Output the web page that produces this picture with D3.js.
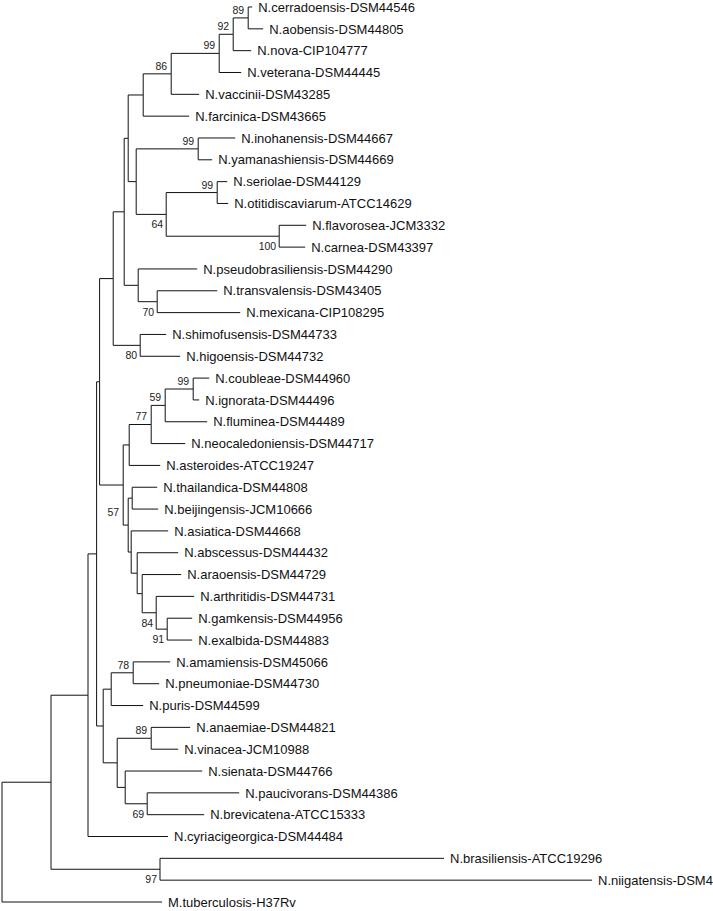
<!DOCTYPE html>
<html>
<head>
<meta charset="utf-8">
<script src="https://cdn.jsdelivr.net/npm/d3@7"></script>
<style>
  body { margin: 0; background: #fff; }
  svg { display: block; }
</style>
</head>
<body>
<script>
// Leaves, top to bottom as drawn
const taxa = [
  "N.cerradoensis-DSM44546", "N.aobensis-DSM44805", "N.nova-CIP104777", "N.veterana-DSM44445",
  "N.vaccinii-DSM43285", "N.farcinica-DSM43665", "N.inohanensis-DSM44667", "N.yamanashiensis-DSM44669",
  "N.seriolae-DSM44129", "N.otitidiscaviarum-ATCC14629", "N.flavorosea-JCM3332", "N.carnea-DSM43397",
  "N.pseudobrasiliensis-DSM44290", "N.transvalensis-DSM43405", "N.mexicana-CIP108295",
  "N.shimofusensis-DSM44733", "N.higoensis-DSM44732", "N.coubleae-DSM44960", "N.ignorata-DSM44496",
  "N.fluminea-DSM44489", "N.neocaledoniensis-DSM44717", "N.asteroides-ATCC19247",
  "N.thailandica-DSM44808", "N.beijingensis-JCM10666", "N.asiatica-DSM44668", "N.abscessus-DSM44432",
  "N.araoensis-DSM44729", "N.arthritidis-DSM44731", "N.gamkensis-DSM44956", "N.exalbida-DSM44883",
  "N.amamiensis-DSM45066", "N.pneumoniae-DSM44730", "N.puris-DSM44599", "N.anaemiae-DSM44821",
  "N.vinacea-JCM10988", "N.sienata-DSM44766", "N.paucivorans-DSM44386", "N.brevicatena-ATCC15333",
  "N.cyriacigeorgica-DSM44484", "N.brasiliensis-ATCC19296", "N.niigatensis-DSM4", "M.tuberculosis-H37Rv"
];
const taxonParent = [
  "n89a", "n89a", "n92", "n99b", "n86", "n143", "n99c", "n99c", "n99d", "n99d", "n100", "n100",
  "n138", "n70", "n70", "n80", "n80", "n99e", "n99e", "n59", "n77", "n129",
  "n133", "n133", "n131", "n137", "n142", "n84", "n91", "n91",
  "n78", "n78", "n111", "n89b", "n89b", "n125", "n69", "n69",
  "n88", "n97b", "n97b", "root"
];
const taxonLength = [
  0.002, 0.0075, 0.009, 0.011, 0.014, 0.023, 0.0185, 0.007, 0.005, 0.0055, 0.0135, 0.013,
  0.0295, 0.03, 0.0415, 0.013, 0.02, 0.008, 0.003, 0.021, 0.017, 0.0155,
  0.0125, 0.013, 0.0185, 0.0205, 0.0195, 0.019, 0.0125, 0.0125,
  0.0185, 0.013, 0.016, 0.0195, 0.0135, 0.0385, 0.046, 0.0285,
  0.04, 0.142, 0.216, 0.08
];

// Internal nodes (clades) with bootstrap support
const cladeIds = [
  "root", "n51", "n88", "n97a", "n99a", "n113", "n124", "n128", "n143", "n86", "n99b", "n92", "n89a",
  "n136", "n99c", "n64", "n99d", "n100", "n138", "n70", "n80", "n123", "n129", "n77", "n59", "n99e",
  "n57", "n133", "n131", "n137", "n142", "n84", "n91", "n103", "n111", "n78", "n117", "n89b",
  "n125", "n69", "n97b"
];
const cladeParent = [
  "", "root", "n51", "n88", "n97a", "n99a", "n113", "n124", "n128", "n143", "n86", "n99b", "n92",
  "n128", "n136", "n136", "n64", "n64", "n124", "n138", "n113", "n99a", "n123", "n129", "n77", "n59",
  "n123", "n57", "n57", "n131", "n137", "n142", "n84", "n97a", "n103", "n111", "n103", "n117",
  "n117", "n125", "n51"
];
const cladeLength = [
  0, 0.0245, 0.0185, 0.0043, 0.0015, 0.0068, 0.0055, 0.002, 0.0075, 0.014, 0.024, 0.007, 0.0075,
  0.004, 0.031, 0.015, 0.0255, 0.0565, 0.007, 0.0095, 0.0135, 0.0118, 0.003, 0.011, 0.007, 0.014,
  0.0025, 0.002, 0.0015, 0.003, 0.0025, 0.007, 0.0055, 0.0033, 0.004, 0.011, 0.007, 0.017,
  0.004, 0.011, 0.0545
];
const cladeSupport = [
  "", "", "", "", "", "", "", "", "", "86", "99", "92", "89",
  "", "99", "64", "99", "100", "", "70", "80", "", "", "77", "59", "99",
  "57", "", "", "", "", "84", "91", "", "", "78", "", "89",
  "", "69", "97"
];

const width = 713, height = 911;

const rows = cladeIds.map((id, i) => ({id, parent: cladeParent[i] || null, length: cladeLength[i], support: cladeSupport[i]}))
  .concat(taxa.map((id, i) => ({id, parent: taxonParent[i], length: taxonLength[i], support: ""})));

const root = d3.stratify()
  .id(d => d.id)
  .parentId(d => d.parent)(rows);

// keep the drawn leaf order
root.sort((a, b) => d3.min(a.leaves(), l => taxa.indexOf(l.id)) - d3.min(b.leaves(), l => taxa.indexOf(l.id)));

// vertical positions from the cluster layout
d3.cluster().size([1, 1]).separation(() => 1)(root);

// distance from root
root.eachBefore(d => { d.dist = d.parent ? d.parent.dist + d.data.length : 0; });

const leaves = root.leaves();
const y = d3.scaleLinear().domain(d3.extent(leaves, d => d.x)).range([7, 902]);
const x = d3.scaleLinear().domain([0, 0.35]).range([2, 702]);

const svg = d3.select("body").append("svg")
  .attr("width", width)
  .attr("height", height)
  .attr("viewBox", `0 0 ${width} ${height}`);

svg.append("rect").attr("width", width).attr("height", height).attr("fill", "#fff");

const g = svg.append("g");

// elbow links
g.append("g")
  .attr("fill", "none")
  .attr("stroke", "#111")
  .attr("stroke-width", 1)
  .selectAll("path")
  .data(root.links())
  .join("path")
  .attr("d", d => `M${x(d.source.dist)},${y(d.source.x)}V${y(d.target.x)}H${x(d.target.dist)}`);

// taxon names
g.append("g")
  .attr("font-family", "Arial, 'Liberation Sans', sans-serif")
  .attr("font-size", 13)
  .attr("fill", "#111")
  .selectAll("text")
  .data(leaves)
  .join("text")
  .attr("x", d => x(d.dist) + 6)
  .attr("y", d => y(d.x))
  .attr("dy", "0.36em")
  .text(d => d.id);

// bootstrap values
const supported = root.descendants().filter(d => d.data.support);
const above = d => d.parent.children[0] === d || d.id === "n57";

g.append("g")
  .attr("font-family", "Arial, 'Liberation Sans', sans-serif")
  .attr("font-size", 10.5)
  .attr("fill", "#222")
  .attr("text-anchor", "end")
  .selectAll("text")
  .data(supported)
  .join("text")
  .attr("x", d => x(d.dist) - (d.id === "n57" ? 9 : above(d) ? 4 : 3))
  .attr("y", d => y(d.x) + (d.id === "n57" ? -9 : above(d) ? -4 : 14))
  .text(d => d.data.support);
</script>
</body>
</html>
